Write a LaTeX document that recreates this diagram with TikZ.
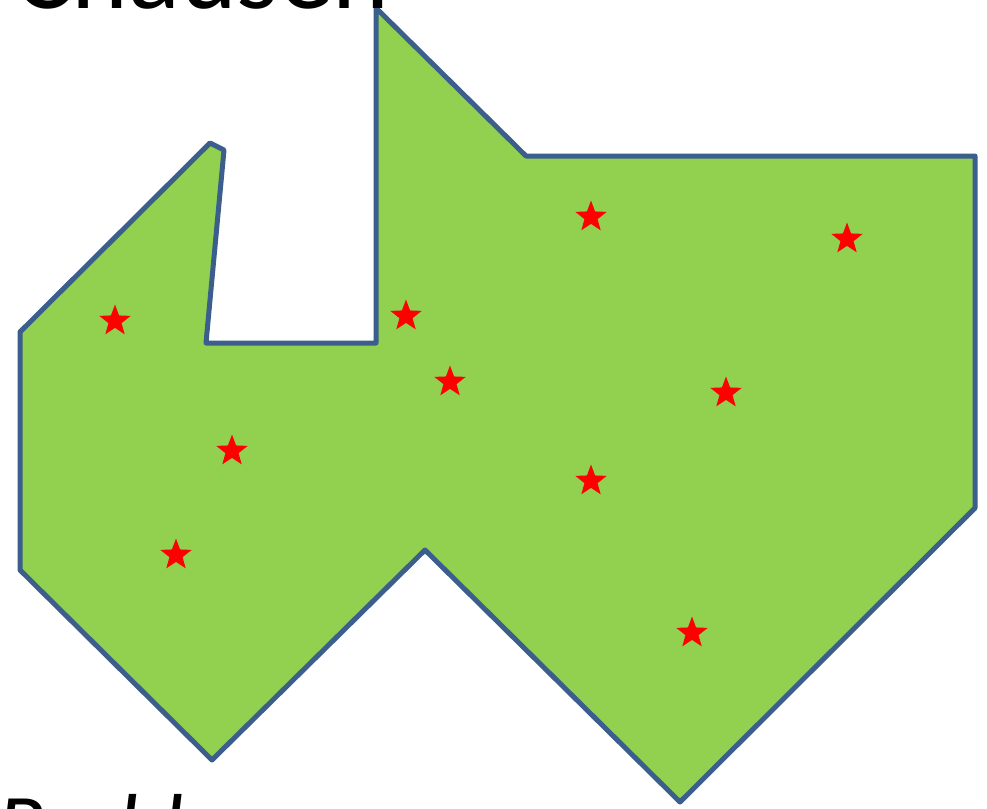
\documentclass[tikz,border=0pt]{standalone}
\usepackage{fontspec}
\setmainfont{Carlito}
\usetikzlibrary{shapes.geometric}
\definecolor{roomgreen}{HTML}{92D050}
\definecolor{walledge}{HTML}{3B5E8C}
\tikzset{
    guard/.style={star, star points=5, star point ratio=2.4, fill=red, draw=none,
        minimum size=33pt, inner sep=0pt}
}
\begin{document}
\begin{tikzpicture}[x=1pt, y=-1pt]
    \useasboundingbox (0,0) rectangle (987,808);
    % Gallery floor plan
    \draw[walledge, fill=roomgreen, line width=5pt, line join=round]
        (20,332) -- (210,143) -- (224,150) -- (206,343) -- (376,343) -- (376,8)
        -- (526,156) -- (975,156) -- (975,508) -- (680,802) -- (425,550)
        -- (212,760) -- (20,570) -- cycle;
    % Guards
    \node[guard] (g1) at (115,321) {};
    \node[guard] (g2) at (406,316) {};
    \node[guard] (g3) at (591,217) {};
    \node[guard] (g4) at (847,239) {};
    \node[guard] (g5) at (450,382) {};
    \node[guard] (g6) at (726,393) {};
    \node[guard] (g7) at (232,451) {};
    \node[guard] (g8) at (591,481) {};
    \node[guard] (g9) at (176,555) {};
    \node[guard] (g10) at (692,633) {};
    % Slide text, cut off by the frame
    \node[anchor=base west, inner sep=0pt, font=\fontsize{108}{120}\selectfont]
        (title) at (14,9) {Chausen};
    \node[anchor=base west, inner sep=0pt, font=\itshape\fontsize{88}{100}\selectfont]
        (caption) at (-3,855) {Problem};
\end{tikzpicture}
\end{document}
